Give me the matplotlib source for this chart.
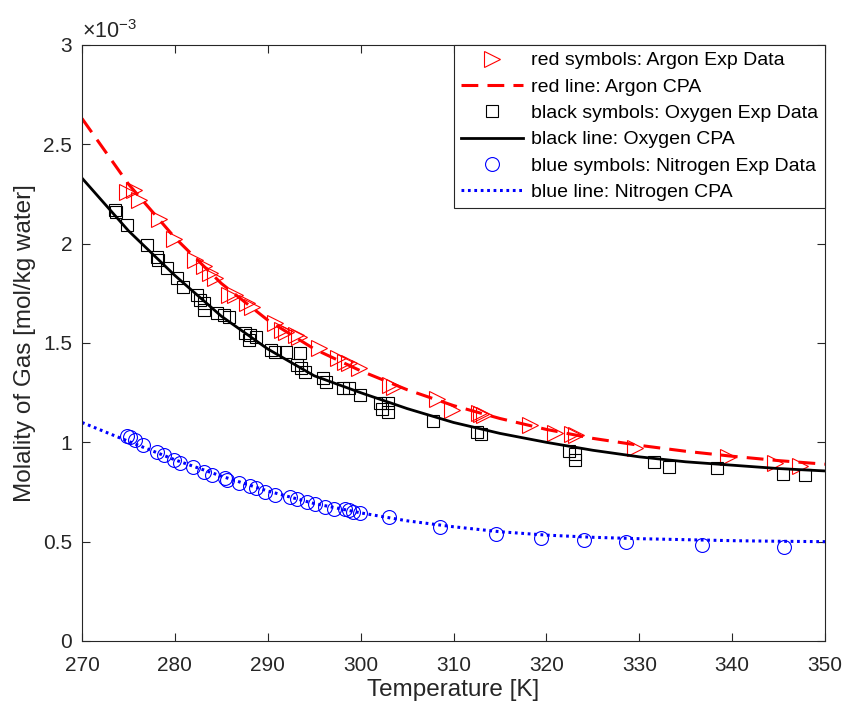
import matplotlib
matplotlib.use("Agg")
import matplotlib.pyplot as plt
import numpy as np

plt.rcParams['font.family'] = ['Liberation Sans', 'DejaVu Sans']
plt.rcParams['mathtext.fontset'] = 'custom'
plt.rcParams['mathtext.rm'] = 'Liberation Sans'
plt.rcParams['mathtext.it'] = 'Liberation Sans:italic'

# ---- data (molality in units of 1e-3 mol/kg water) ----
ar_T = [274.8, 275.6, 276.1, 278.3, 279.9, 282.2, 283.1, 283.8, 284.3, 285.8, 286.5,
        287.8, 288.3, 290.8, 291.5, 292.0, 293.0, 293.4, 295.5, 297.6, 298.3, 298.8,
        299.8, 303.2, 303.6, 308.2, 309.8, 312.7, 313.0, 313.3, 318.2, 320.9, 322.8,
        323.2, 329.5, 339.6, 344.6, 347.3]
ar_m = [2.26, 2.27, 2.22, 2.126, 2.026, 1.918, 1.89, 1.85, 1.825, 1.742, 1.742,
        1.70, 1.683, 1.60, 1.565, 1.557, 1.54, 1.53, 1.473, 1.423, 1.406, 1.40,
        1.373, 1.29, 1.28, 1.22, 1.165, 1.15, 1.145, 1.14, 1.087, 1.048, 1.04,
        1.035, 0.970, 0.928, 0.895, 0.88]

ox_T = [273.6, 273.7, 274.8, 277.0, 278.1, 278.2, 279.2, 280.2, 280.9, 282.4, 282.7,
        283.1, 283.1, 284.5, 285.3, 285.8, 287.6, 288.1, 288.0, 288.7, 290.3, 290.8,
        292.0, 293.5, 293.1, 293.6, 294.0, 296.0, 296.3, 298.1, 298.7, 299.9, 302.1,
        302.3, 303.0, 303.0, 307.8, 312.5, 313.0, 322.4, 323.1, 323.1, 331.6, 333.2,
        338.4, 345.5, 347.9]
ox_m = [2.17, 2.16, 2.094, 1.993, 1.935, 1.92, 1.876, 1.825, 1.783, 1.742, 1.716,
        1.70, 1.666, 1.65, 1.64, 1.632, 1.548, 1.54, 1.515, 1.532, 1.465, 1.457,
        1.457, 1.448, 1.389, 1.372, 1.356, 1.322, 1.305, 1.272, 1.272, 1.238, 1.196,
        1.17, 1.196, 1.154, 1.109, 1.054, 1.042, 0.956, 0.94, 0.91, 0.903, 0.878,
        0.873, 0.841, 0.836]

n2_T = [274.8, 275.2, 275.7, 276.6, 278.1, 278.8, 279.9, 280.6, 282.0, 283.1, 284.0,
        285.4, 285.6, 286.9, 288.1, 288.7, 289.7, 290.8, 292.4, 293.1, 294.2, 295.1,
        296.2, 297.1, 298.3, 298.7, 299.2, 299.9, 303.1, 308.6, 314.6, 319.4, 324.0,
        328.6, 336.8, 345.6]
n2_m = [1.032, 1.025, 1.01, 0.986, 0.953, 0.936, 0.913, 0.898, 0.878, 0.853, 0.836,
        0.822, 0.81, 0.793, 0.78, 0.768, 0.752, 0.735, 0.723, 0.715, 0.70, 0.69,
        0.676, 0.666, 0.666, 0.659, 0.65, 0.642, 0.624, 0.575, 0.54, 0.52, 0.507,
        0.50, 0.483, 0.475]

cpa_T = [270, 275, 280, 285, 290, 295, 300, 305, 310, 315, 320, 325, 330, 335, 340, 345, 350]
ar_cpa = [2.63, 2.30, 2.03, 1.80, 1.615, 1.47, 1.36, 1.265, 1.185, 1.12, 1.065, 1.02,
          0.985, 0.955, 0.93, 0.908, 0.89]
ox_cpa = [2.33, 2.065, 1.84, 1.635, 1.47, 1.335, 1.25, 1.17, 1.10, 1.045, 1.0, 0.96,
          0.927, 0.902, 0.885, 0.868, 0.856]
n2_cpa = [1.10, 1.005, 0.912, 0.83, 0.755, 0.692, 0.645, 0.605, 0.575, 0.55, 0.533,
          0.522, 0.515, 0.51, 0.505, 0.502, 0.50]

xticks = [270, 280, 290, 300, 310, 320, 330, 340, 350]
yticks = [0, 0.5, 1, 1.5, 2, 2.5, 3]
ytick_labels = ['0', '0.5', '1', '1.5', '2', '2.5', '3']

axcol = (0.15, 0.15, 0.15)

fig = plt.figure(figsize=(8.45, 7.09), dpi=100)
ax = fig.add_axes([82/845, 68/709, 743/845, 596/709])

h1, = ax.plot(ar_T, ar_m, linestyle='none', marker='>', ms=11, mfc='none', mec='red', mew=0.8,
              label='red symbols: Argon Exp Data')
h3, = ax.plot(ox_T, ox_m, linestyle='none', marker='s', ms=8, mfc='none', mec='black', mew=0.8,
              label='black symbols: Oxygen Exp Data')
h5, = ax.plot(n2_T, n2_m, linestyle='none', marker='o', ms=10, mfc='none', mec='blue', mew=0.8,
              label='blue symbols: Nitrogen Exp Data')
h2, = ax.plot(cpa_T, ar_cpa, color='red', lw=2.2, dashes=(5.5, 3), label='red line: Argon CPA')
h4, = ax.plot(cpa_T, ox_cpa, color='black', lw=2, label='black line: Oxygen CPA')
h6, = ax.plot(cpa_T, n2_cpa, color='blue', lw=2.2, dashes=(0.9, 1.2), label='blue line: Nitrogen CPA')

ax.set_xlim(270, 350)
ax.set_ylim(0, 3)
ax.set_xticks(xticks)
ax.set_yticks(yticks)
ax.set_yticklabels(ytick_labels)
ax.tick_params(direction='in', top=True, right=True, length=5.5, width=0.8,
               colors=axcol, labelsize=15, labelcolor=axcol)
ax.tick_params(axis='x', pad=11)
ax.tick_params(axis='y', pad=7)
for s in ax.spines.values():
    s.set_color(axcol)
    s.set_linewidth(0.8)

ax.set_xlabel('Temperature [K]', fontsize=17.5, color=axcol, labelpad=3)
ax.set_ylabel('Molality of Gas [mol/kg water]', fontsize=17.5, color=axcol, labelpad=5)
ax.text(0.0, 1.004, r'$\mathregular{\times10^{-3}}$', transform=ax.transAxes, fontsize=15.5,
        color=axcol, ha='left', va='bottom')

leg = ax.legend(handles=[h1, h2, h3, h4, h5, h6], loc='upper right', bbox_to_anchor=(1, 1),
                borderaxespad=0, fontsize=14, handlelength=3.2, handletextpad=0.4,
                labelspacing=0.45, borderpad=0.35, fancybox=False, framealpha=1,
                edgecolor=axcol)
leg.get_frame().set_linewidth(0.8)

fig.savefig('out.png', dpi=100)
